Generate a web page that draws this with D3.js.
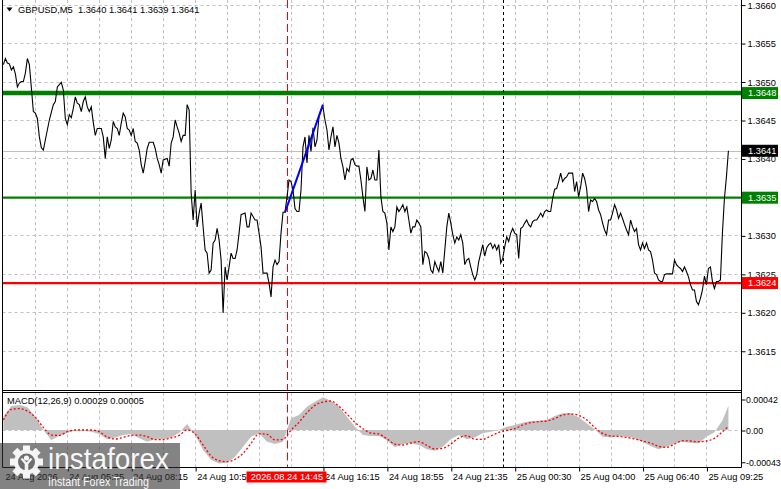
<!DOCTYPE html>
<html><head><meta charset="utf-8">
<script src="https://cdn.jsdelivr.net/npm/d3@7/dist/d3.min.js"></script>
<style>
body{margin:0;background:#fff;overflow:hidden}
svg{display:block}
text{font-family:"Liberation Sans",Arial,sans-serif;}
</style></head>
<body><svg id="c" width="781" height="489"></svg>
<script>
// ---------------- DATA ----------------
const symbolTitle = "GBPUSD,M5  1.3640 1.3641 1.3639 1.3641";
const macdTitle = "MACD(12,26,9) 0.00029 0.00005";

const priceBars = [0,1,2,3,4,5,6,7,8,9,10,11,12,13,14,15,16,17,18,19,20,21,23,24,25,26,27,28,29,30,31,32,33,34,35,36,37,38,39,40,41,42,43,44,45,46,47,49,50,51,52,53,54,55,56,57,58,59,60,61,62,63,64,65,66,67,68,69,70,71,72,73,75,76,77,78,79,80,82,83,84,85,86,87,88,89,90,91,92,93,94,95,96,97,98,99,100,101,102,103,104,105,106,107,108,109,110,111,112,113,114,115,116,117,118,119,121,122,123,124,126,127,128,129,130,132,133,134,135,136,137,138,139,140,141,142,143,144,145,146,147,148,149,150,151,152,153,154,155,156,157,158,159,160,161,162,163,164,165,166,167,168,169,170,171,172,173,174,175,176,177,178,179,180,181,182,183,184,185,186,187,188,189,190,191,192,193,194,195,196,197,198,199,200,201,202,203,204,205,206,207,208,209,210,211,212,213,214,215,216,217,218,219,220,221,222,223,224,225,226,227,228,229,230,231,232,233,234,235,236,237,238,239,240,241,242,243,244,245,246,247,248,249,250,251,252,253,254,255,256,257,258,259,260,261,262,263,264,265,266,267,268,269,270,271,272,273,274,275,276,277,278,279,280,281,282,283,284,285,286,287,288,289,290,291,292,293,294,295,296,297,298,299,300,301,302,303,304,305,306,307,308,309,310,311,312,313,314,315,316,317,318,319,320,321,322,323,324,325,326,327,328,329,330,331,332,334,335,336,337,338,339,340,341,342,343,344,345,346,347,348,349,350,351,352,353,354,355,356,357,358,359,360,361,362,363];

const priceClose = [1.36522,1.36530,1.36524,1.36523,1.36515,1.36519,1.36510,1.36493,1.36498,1.36500,1.36500,1.36511,1.36530,1.36522,1.36492,1.36461,1.36459,1.36452,1.36428,1.36414,1.36411,1.36424,1.36450,1.36460,1.36470,1.36474,1.36493,1.36496,1.36499,1.36489,1.36452,1.36444,1.36457,1.36453,1.36465,1.36480,1.36472,1.36470,1.36461,1.36474,1.36480,1.36467,1.36461,1.36467,1.36447,1.36430,1.36439,1.36439,1.36428,1.36400,1.36428,1.36413,1.36424,1.36448,1.36441,1.36439,1.36430,1.36446,1.36459,1.36454,1.36439,1.36437,1.36430,1.36439,1.36422,1.36420,1.36411,1.36392,1.36381,1.36396,1.36413,1.36421,1.36421,1.36413,1.36400,1.36392,1.36381,1.36398,1.36400,1.36390,1.36420,1.36428,1.36450,1.36441,1.36433,1.36422,1.36430,1.36430,1.36470,1.36463,1.36355,1.36320,1.36359,1.36311,1.36329,1.36342,1.36311,1.36281,1.36277,1.36251,1.36255,1.36290,1.36294,1.36309,1.36294,1.36268,1.36199,1.36259,1.36242,1.36259,1.36277,1.36270,1.36270,1.36281,1.36303,1.36327,1.36329,1.36311,1.36311,1.36329,1.36320,1.36320,1.36303,1.36285,1.36251,1.36251,1.36238,1.36220,1.36259,1.36268,1.36262,1.36266,1.36303,1.36330,1.36330,1.36350,1.36372,1.36370,1.36359,1.36335,1.36331,1.36331,1.36359,1.36415,1.36428,1.36394,1.36430,1.36409,1.36440,1.36415,1.36424,1.36454,1.36463,1.36467,1.36450,1.36437,1.36411,1.36428,1.36441,1.36415,1.36430,1.36420,1.36400,1.36389,1.36372,1.36387,1.36383,1.36398,1.36400,1.36392,1.36390,1.36390,1.36372,1.36350,1.36331,1.36389,1.36372,1.36374,1.36385,1.36372,1.36372,1.36411,1.36350,1.36331,1.36329,1.36316,1.36281,1.36311,1.36305,1.36311,1.36337,1.36331,1.36335,1.36340,1.36331,1.36337,1.36320,1.36303,1.36311,1.36311,1.36320,1.36316,1.36311,1.36262,1.36279,1.36277,1.36270,1.36255,1.36251,1.36266,1.36259,1.36253,1.36266,1.36251,1.36281,1.36311,1.36329,1.36316,1.36301,1.36290,1.36298,1.36294,1.36301,1.36290,1.36262,1.36268,1.36270,1.36259,1.36249,1.36242,1.36249,1.36266,1.36277,1.36288,1.36273,1.36284,1.36288,1.36290,1.36283,1.36288,1.36281,1.36288,1.36264,1.36270,1.36285,1.36298,1.36292,1.36303,1.36309,1.36303,1.36301,1.36270,1.36309,1.36311,1.36316,1.36320,1.36314,1.36311,1.36318,1.36320,1.36320,1.36324,1.36329,1.36324,1.36331,1.36333,1.36331,1.36331,1.36348,1.36360,1.36361,1.36370,1.36381,1.36370,1.36374,1.36376,1.36381,1.36381,1.36381,1.36357,1.36370,1.36350,1.36363,1.36381,1.36374,1.36361,1.36331,1.36346,1.36344,1.36348,1.36344,1.36333,1.36327,1.36316,1.36307,1.36301,1.36320,1.36320,1.36329,1.36340,1.36333,1.36322,1.36329,1.36322,1.36314,1.36307,1.36301,1.36320,1.36311,1.36305,1.36309,1.36288,1.36281,1.36290,1.36283,1.36290,1.36281,1.36279,1.36268,1.36251,1.36249,1.36242,1.36240,1.36240,1.36249,1.36250,1.36250,1.36250,1.36268,1.36262,1.36259,1.36257,1.36253,1.36259,1.36253,1.36246,1.36236,1.36229,1.36229,1.36214,1.36210,1.36218,1.36229,1.36247,1.36236,1.36257,1.36259,1.36240,1.36231,1.36240,1.36240,1.36242,1.36303,1.36348,1.36376,1.36410];

const priceTicks = [1.3660,1.3655,1.3650,1.3645,1.3640,1.3635,1.3630,1.3625,1.3620,1.3615];
const currentPrice = 1.36410;
const currentLabel = "1.3641";

const levelValues = [1.36485, 1.36349, 1.36238];
const levelLabels = ["1.3648", "1.3635", "1.3624"];

const trendBars = [141, 160];
const trendPrices = [1.36330, 1.36470];

const timeLabelBars = [0,32,64,96,160,192,224,256,288,320,352];
const timeLabels = ["24 Aug 2026","24 Aug 05:35","24 Aug 08:15","24 Aug 10:55","24 Aug 16:15","24 Aug 18:55","24 Aug 21:35","25 Aug 00:30","25 Aug 04:00","25 Aug 06:40","25 Aug 09:25"];
const gridBars = [16,32,48,64,80,96,112,128,144,160,176,192,208,224,240,256,272,288,304,320,336,352];
const cursorBar = 142, cursorLabel = "2026.08.24 14:45";
const sessionBar = 250;

const macdBars = [0,4,8,12,16,20,24,28,32,36,40,44,48,52,56,60,64,68,72,76,80,84,88,92,96,100,104,108,112,116,120,124,128,132,136,140,144,148,152,156,160,164,168,172,176,180,184,188,192,196,200,204,208,212,216,220,224,228,232,236,240,244,248,252,256,260,264,268,272,276,280,284,288,292,296,300,304,308,312,316,320,324,328,332,336,340,344,348,352,356,360,363];
const macdMain = [0.00018,0.000325,0.00034,0.00031,0.00018,0,-0.000135,-0.00008,-0.000036,-0.00001,
 -0.00001,-0.000023,-0.000054,-0.000126,-0.0001,-0.000068,-0.000054,-0.000113,-0.000158,-0.000126,
 -0.000126,-0.0001,-0.000036,0.000081,-0.000068,-0.000271,-0.000406,-0.000452,-0.000443,-0.000361,
 -0.000226,-0.00009,-0.000045,-0.000158,-0.00019,-0.000158,0.000158,0.000203,0.000316,0.000384,
 0.000443,0.000397,0.000316,0.00018,0.000045,-0.000068,-0.000081,-0.000081,-0.000135,-0.000235,
 -0.00019,-0.000181,-0.000203,-0.000262,-0.00028,-0.000226,-0.000126,-0.000068,-0.000126,-0.0001,
 -0.000045,-0.000023,0,0.000045,0.000068,0.0001,0.000122,0.000126,0.000135,0.00019,
 0.000226,0.000226,0.000172,0.00009,0.000009,-0.00009,-0.0001,-0.000081,-0.00009,-0.000113,
 -0.000158,-0.000217,-0.000262,-0.000226,-0.000181,-0.000158,-0.000172,-0.000181,-0.00009,-0.00003,
 0.00013,0.00033];
const macdSignal = [0.000135,0.00028,0.000289,0.000257,0.000172,0.000036,-0.000068,-0.000072,-0.000023,0,
 0,0,-0.000023,-0.000095,-0.000122,-0.0001,-0.000072,-0.000068,-0.00009,-0.000131,
 -0.000131,-0.000108,-0.000072,0,-0.000054,-0.000203,-0.000352,-0.000415,-0.000429,-0.000397,
 -0.000316,-0.000181,-0.00005,-0.000059,-0.000135,-0.000126,0,0.000104,0.000235,0.000334,
 0.000379,0.000393,0.000321,0.000217,0.000104,0.000018,-0.000041,-0.000054,-0.00012,-0.00019,
 -0.000203,-0.000176,-0.000158,-0.000208,-0.000257,-0.000248,-0.00019,-0.000108,-0.000077,-0.000126,
 -0.000126,-0.000081,-0.000032,-0.000005,0.000018,0.000068,0.0001,0.000113,0.000122,0.000154,
 0.000203,0.000217,0.000199,0.00014,0.000036,-0.000045,-0.000081,-0.000086,-0.0001,-0.000122,
 -0.000149,-0.000176,-0.000221,-0.000235,-0.00019,-0.000145,-0.000149,-0.000158,-0.000149,-0.000113,
 -0.000023,0.00005];
const macdTicks = [0.00042, 0, -0.00043];
const macdTickLabels = ["0.00042","0.00","-0.00043"];

// ---------------- LAYOUT ----------------
const svg = d3.select("#c");
const L = 2.5, R = 741.5, mainTop = 0, mainBot = 390.5, macdTop = 392.5, macdBot = 467.5;
const x = d3.scaleLinear().domain([0, 369]).range([3.4, 740.4]);
const yP = d3.scaleLinear().domain([1.36099, 1.36606]).range([390, 0]);
const yM = d3.scaleLinear().domain([-0.000501, 0.000515]).range([467, 392]);
const GRID = "#c0c0c0";

const defs = svg.append("defs");
defs.append("clipPath").attr("id","cm").append("rect").attr("x",L).attr("y",mainTop).attr("width",R-L).attr("height",mainBot-mainTop);
defs.append("clipPath").attr("id","cd").append("rect").attr("x",L).attr("y",macdTop).attr("width",R-L).attr("height",macdBot-macdTop);

const gMain = svg.append("g").attr("clip-path","url(#cm)");
const gMacd = svg.append("g").attr("clip-path","url(#cd)");

// grids
gMain.selectAll(".vg").data(gridBars).join("line")
  .attr("x1",d=>Math.round(x(d))+0.5).attr("x2",d=>Math.round(x(d))+0.5)
  .attr("y1",mainTop).attr("y2",mainBot)
  .attr("stroke",GRID).attr("stroke-dasharray","3,3");
gMain.selectAll(".hg").data(priceTicks).join("line")
  .attr("x1",L).attr("x2",R).attr("y1",d=>Math.round(yP(d))+0.5).attr("y2",d=>Math.round(yP(d))+0.5)
  .attr("stroke",GRID).attr("stroke-dasharray","3,3");
gMacd.selectAll(".vg").data(gridBars).join("line")
  .attr("x1",d=>Math.round(x(d))+0.5).attr("x2",d=>Math.round(x(d))+0.5)
  .attr("y1",macdTop).attr("y2",macdBot)
  .attr("stroke",GRID).attr("stroke-dasharray","3,3");
gMacd.append("line").attr("x1",L).attr("x2",R).attr("y1",Math.round(yM(0))+0.5).attr("y2",Math.round(yM(0))+0.5)
  .attr("stroke",GRID).attr("stroke-dasharray","3,3");

// current price line
gMain.append("line").attr("x1",L).attr("x2",R).attr("y1",Math.round(yP(currentPrice))+0.5).attr("y2",Math.round(yP(currentPrice))+0.5)
  .attr("stroke","#c0c0c0");

// level lines
const levelColors = ["#008000","#008000","#ff0000"];
const levelWidths = [4.5,2.2,2.2];
gMain.selectAll(".lv").data(levelValues).join("line")
  .attr("x1",L).attr("x2",R).attr("y1",d=>yP(d)).attr("y2",d=>yP(d))
  .attr("stroke",(d,i)=>levelColors[i]).attr("stroke-width",(d,i)=>levelWidths[i]);

// vertical markers
[gMain,gMacd].forEach((g,k)=>{
  g.append("line").attr("x1",Math.round(x(cursorBar))+0.5).attr("x2",Math.round(x(cursorBar))+0.5)
    .attr("y1",k?macdTop:mainTop).attr("y2",k?macdBot:mainBot)
    .attr("stroke","#ff0000").attr("stroke-dasharray","8,4");
  g.append("line").attr("x1",Math.round(x(sessionBar))+0.5).attr("x2",Math.round(x(sessionBar))+0.5)
    .attr("y1",k?macdTop:mainTop).attr("y2",k?macdBot:mainBot)
    .attr("stroke","#000").attr("stroke-dasharray","3,3");
});

// price line
const pts = priceBars.map((b,i)=>({b, p: priceClose[i]}));
gMain.append("path").datum(pts)
  .attr("d", d3.line().x(d=>x(d.b)).y(d=>yP(d.p)))
  .attr("fill","none").attr("stroke","#000").attr("stroke-width",1.1);

// trend line
gMain.append("path").datum(trendBars.map((b,i)=>({b,p:trendPrices[i]})))
  .attr("d", d3.line().x(d=>x(d.b)).y(d=>yP(d.p)))
  .attr("stroke","#0000ff").attr("stroke-width",2).attr("fill","none");

// MACD histogram and signal
const md = macdBars.map((b,i)=>({b, m: macdMain[i], s: macdSignal[i]}));
gMacd.append("path").datum(md)
  .attr("d", d3.area().x(d=>x(d.b)).y0(yM(0)).y1(d=>yM(d.m)))
  .attr("fill","#c0c0c0");
gMacd.append("path").datum(md)
  .attr("d", d3.line().x(d=>x(d.b)).y(d=>yM(d.s)).curve(d3.curveMonotoneX))
  .attr("fill","none").attr("stroke","#ff0000").attr("stroke-width",1.3).attr("stroke-dasharray","2,2");

// frames
const fr = svg.append("g").attr("stroke","#000").attr("stroke-width",1).attr("fill","none");
fr.append("line").attr("x1",L).attr("x2",L).attr("y1",0).attr("y2",macdBot);
fr.append("line").attr("x1",R).attr("x2",R).attr("y1",0).attr("y2",macdBot);
fr.append("line").attr("x1",L).attr("x2",R).attr("y1",mainBot).attr("y2",mainBot);
fr.append("line").attr("x1",L).attr("x2",R).attr("y1",macdTop).attr("y2",macdTop);
fr.append("line").attr("x1",L).attr("x2",R).attr("y1",macdBot).attr("y2",macdBot);

// axes
const FS = "9.3px";
const ay = svg.append("g").attr("transform",`translate(${R},0.5)`)
  .call(d3.axisRight(yP).tickValues(priceTicks).tickFormat(d3.format(".4f")).tickSize(4).tickPadding(2).tickSizeOuter(0));
ay.select(".domain").remove();
ay.selectAll("text").attr("font-size",FS).attr("fill","#000").attr("font-family","Liberation Sans, Arial, sans-serif");
ay.selectAll("line").attr("stroke","#000");

const am = svg.append("g").attr("transform",`translate(${R},0.5)`)
  .call(d3.axisRight(yM).tickValues(macdTicks).tickFormat((d,i)=>macdTickLabels[i]).tickSize(4).tickPadding(0.5).tickSizeOuter(0));
am.select(".domain").remove();
am.selectAll("text").attr("font-size","8.8px").attr("fill","#000").attr("font-family","Liberation Sans, Arial, sans-serif");

const ax = svg.append("g").attr("transform",`translate(0.5,${macdBot})`)
  .call(d3.axisBottom(x).tickValues(timeLabelBars).tickFormat((d,i)=>timeLabels[i]).tickSize(4).tickSizeOuter(0));
ax.select(".domain").remove();
ax.selectAll("text").attr("font-size",FS).attr("fill","#000").attr("text-anchor","start")
  .attr("font-family","Liberation Sans, Arial, sans-serif").attr("dx",1).attr("y",6);
ax.selectAll(".tick").filter(d=>d===0).select("line").remove();

// level labels on axis
const lbl = svg.append("g");
const boxes = levelValues.map((v,i)=>({v, t: levelLabels[i], c: levelColors[i]}));
boxes.push({v: currentPrice, t: currentLabel, c: "#000"});
lbl.selectAll("rect").data(boxes).join("rect")
  .attr("x",R+0.5).attr("y",d=>yP(d.v)-6).attr("width",36).attr("height",12).attr("fill",d=>d.c);
lbl.selectAll("text").data(boxes).join("text")
  .attr("x",R+6.5).attr("y",d=>yP(d.v)).attr("dy","0.35em").attr("font-size",FS).attr("fill","#fff").text(d=>d.t);

// cursor time label
const cx = x(cursorBar);
svg.append("rect").attr("x",cx-40.5).attr("y",471.5).attr("width",80).attr("height",11).attr("fill","#ff0000");
svg.append("text").attr("x",cx).attr("y",477).attr("dy","0.35em").attr("text-anchor","middle")
  .attr("font-size",FS).attr("fill","#fff").text(cursorLabel);

// titles
svg.append("path").attr("d","M6.5,7.5 L12.5,7.5 L9.5,11.5 Z").attr("fill","#000");
svg.append("text").attr("x",18).attr("y",10).attr("dy","0.35em").attr("font-size",FS).attr("fill","#000")
  .attr("xml:space","preserve").style("white-space","pre").text(symbolTitle);
svg.append("text").attr("x",7).attr("y",401).attr("dy","0.35em").attr("font-size",FS).attr("fill","#000").text(macdTitle);

// watermark
const wm = svg.append("g");
wm.append("rect").attr("x",0).attr("y",443).attr("width",180).attr("height",46).attr("fill","#303030").attr("opacity",0.6);
const gear = wm.append("g").attr("transform","translate(26.5,462)").attr("fill","#fff").attr("opacity",0.92);
const teeth = d3.range(8);
gear.selectAll("rect").data(teeth).join("rect")
  .attr("x",-3.5).attr("y",-16.5).attr("width",7).attr("height",7).attr("transform",d=>`rotate(${d*45})`);
gear.append("circle").attr("r",12.5);
gear.append("circle").attr("r",8.5).attr("fill","#6e6e6e");
gear.append("circle").attr("cy",-4).attr("r",2.6).attr("fill","#fff");
gear.append("path").attr("d","M-6,-3 L-1.8,2 L-1.8,10 L1.8,10 L1.8,2 L6,-3 L4,-4 L0,0.5 L-4,-4 Z").attr("fill","#fff");
wm.append("text").attr("x",48).attr("y",469).attr("font-size","29px").attr("fill","#fff").attr("opacity",0.95)
  .attr("font-family","Open Sans, DejaVu Sans, sans-serif").attr("textLength",121).attr("lengthAdjust","spacingAndGlyphs").text("instaforex");
wm.append("text").attr("x",48).attr("y",486).attr("font-size","12.5px").attr("fill","#fff").attr("opacity",0.95)
  .attr("font-family","Open Sans, DejaVu Sans, sans-serif").attr("textLength",101).attr("lengthAdjust","spacingAndGlyphs").text("Instant Forex Trading");
</script>
</body></html>
